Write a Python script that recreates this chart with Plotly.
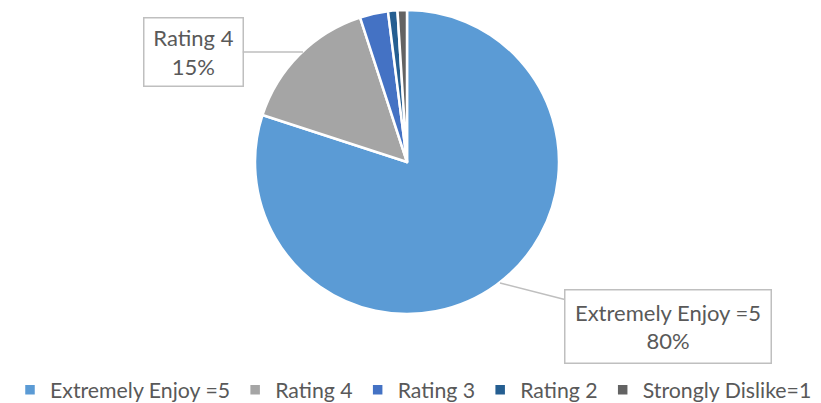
import plotly.graph_objects as go

labels = ["Extremely Enjoy =5", "Rating 4", "Rating 3", "Rating 2", "Strongly Dislike=1"]
values = [80, 15, 3, 1, 1]
colors = ["#5B9BD5", "#A5A5A5", "#4472C4", "#255E91", "#636363"]

W, H = 821, 403
OFF = 8  # page body margin offset
cx, cy, r = 407 - OFF, 162 - OFF, 152

fig = go.Figure(go.Pie(
    labels=labels, values=values, sort=False, direction="clockwise", rotation=0,
    marker=dict(colors=colors, line=dict(color="white", width=2.5)),
    textinfo="none", hoverinfo="label+percent",
    domain=dict(x=[(cx - r) / W, (cx + r) / W], y=[1 - (cy + r) / H, 1 - (cy - r) / H]),
))

FAM = "Lato, Carlito, Calibri, sans-serif"
font = dict(family=FAM, size=22, color="#595959")


def px(x):
    return (x - OFF) / W


def py(y):
    return 1 - (y - OFF) / H


fig.add_annotation(
    x=px(303), y=py(52), xref="paper", yref="paper",
    ax=193 - 303, ay=52 - 52, axref="pixel", ayref="pixel",
    text="Rating 4<br>15%", showarrow=True, arrowhead=0, arrowwidth=1.5, arrowcolor="#BFBFBF",
    bordercolor="#BFBFBF", borderwidth=1.5, borderpad=0, width=98, height=67,
    bgcolor="white", font=font, align="center", valign="middle",
)
fig.add_annotation(
    x=px(500), y=py(283), xref="paper", yref="paper",
    ax=668 - 500, ay=326 - 283, axref="pixel", ayref="pixel",
    text="Extremely Enjoy =5<br>80%", showarrow=True, arrowhead=0, arrowwidth=1.5, arrowcolor="#BFBFBF",
    bordercolor="#BFBFBF", borderwidth=1.5, borderpad=0, width=205, height=72,
    bgcolor="white", font=font, align="center", valign="middle",
)

fig.update_layout(
    width=W, height=H, margin=dict(l=0, r=0, t=0, b=0),
    paper_bgcolor="white", plot_bgcolor="white",
    font=font,
    legend=dict(orientation="h", x=px(413.5), xanchor="center", y=py(390), yanchor="middle",
                font=dict(family=FAM, size=21.3, color="#595959"),
                itemwidth=30, tracegroupgap=0),
)

fig.write_html("out.html")
